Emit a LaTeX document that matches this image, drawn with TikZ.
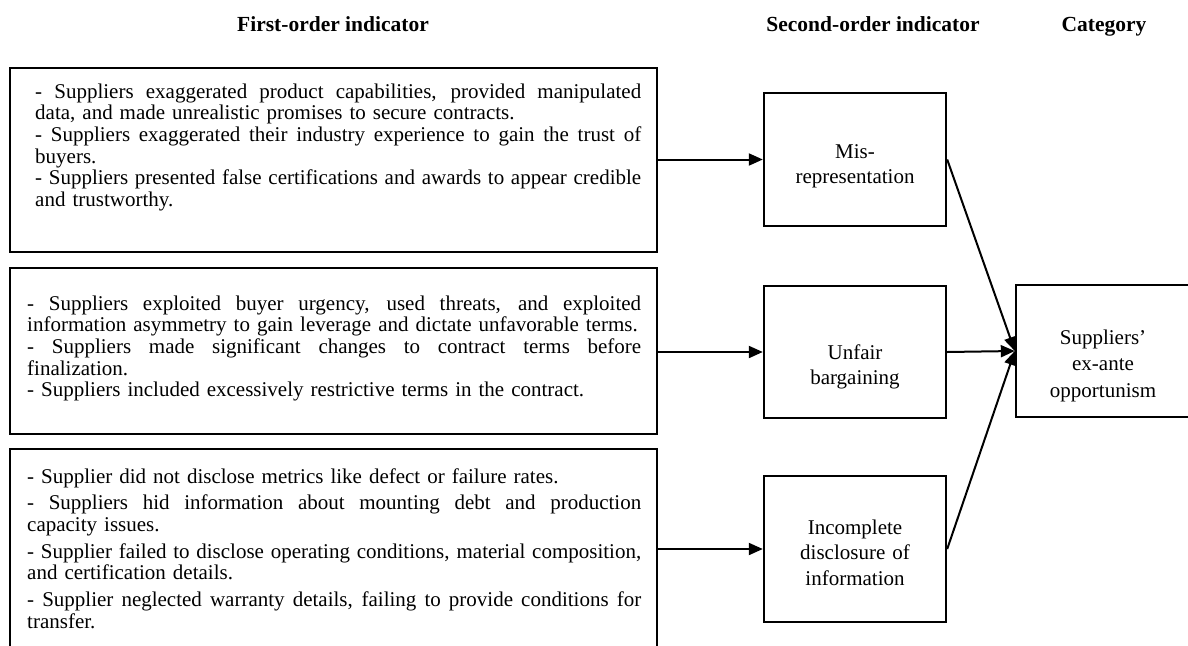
\documentclass[tikz,border=0pt]{standalone}
\usepackage{fontspec}
\setmainfont{Liberation Serif}
\usetikzlibrary{arrows.meta}

% lines stretched to the full text width (justified); the font's own
% stretchable interword glue is restored inside the box
\newcommand{\jla}[1]{\leavevmode\hbox to 606pt{\spaceskip=0pt\xspaceskip=0pt #1}}
\newcommand{\jlb}[1]{\leavevmode\hbox to 614pt{\spaceskip=0pt\xspaceskip=0pt #1}}

\begin{document}
\begin{tikzpicture}[x=1pt,y=-1pt,
  boxf/.style={draw=black, line width=2.4pt, inner sep=0pt},
  bodytxt/.style={anchor=base west, inner sep=0pt, align=left,
    font=\fontsize{21}{21.7}\selectfont},
  lbl/.style={anchor=base, inner sep=0pt, align=center, text width=178pt,
    font=\fontsize{21}{25.5}\selectfont},
  hdr/.style={anchor=base, inner sep=0pt, font=\fontsize{21.5}{25}\selectfont\bfseries},
  arr/.style={line width=2pt, -{Triangle[length=14pt,width=12pt]}}
]
\useasboundingbox (0,0) rectangle (1188,645);

% column headers
\node[hdr] (h1) at (333,31) {First-order indicator};
\node[hdr] (h2) at (873,31) {Second-order indicator};
\node[hdr] (h3) at (1104,31) {Category};

% first-order indicator boxes
\node[boxf, minimum width=647pt, minimum height=184pt] (f1) at (333.5,160) {};
\node[boxf, minimum width=647pt, minimum height=166pt] (f2) at (333.5,351) {};
\node[boxf, minimum width=647pt, minimum height=211pt] (f3) at (333.5,554.5) {};

\node[bodytxt, text width=606pt] (t1) at (35,98) {%
\jla{- Suppliers exaggerated product capabilities, provided manipulated}\\
data, and made unrealistic promises to secure contracts.\\
\jla{- Suppliers exaggerated their industry experience to gain the trust of}\\
buyers.\\
\jla{- Suppliers presented false certifications and awards to appear credible}\\
and trustworthy.};

\node[bodytxt, text width=614pt] (t2) at (27,310) {%
\jlb{- Suppliers exploited buyer urgency, used threats, and exploited}\\
information asymmetry to gain leverage and dictate unfavorable terms.\\
\jlb{- Suppliers made significant changes to contract terms before}\\
finalization.\\
- Suppliers included excessively restrictive terms in the contract.};

\node[bodytxt, text width=614pt] (t3) at (27,483) {%
- Supplier did not disclose metrics like defect or failure rates.\\[5pt]
\jlb{- Suppliers hid information about mounting debt and production}\\
capacity issues.\\[5pt]
\jlb{- Supplier failed to disclose operating conditions, material composition,}\\
and certification details.\\[5pt]
\jlb{- Supplier neglected warranty details, failing to provide conditions for}\\
transfer.};

% second-order indicator boxes
\node[boxf, minimum width=182pt, minimum height=133pt] (mis) at (855,159.5) {};
\node[boxf, minimum width=182pt, minimum height=132pt] (unf) at (855,352) {};
\node[boxf, minimum width=182pt, minimum height=146pt] (inc) at (855,549) {};
\node[lbl] (misT) at (855,158) {Mis-\\representation};
\node[lbl] (unfT) at (855,359) {Unfair\\bargaining};
\node[lbl] (incT) at (855,534) {Incomplete\\disclosure of\\information};

% category box
\node[boxf, minimum width=179pt, minimum height=132pt] (sup) at (1105.5,351) {};
\node[lbl, font=\fontsize{21}{26.5}\selectfont] (supT) at (1103,344) {Suppliers’\\ex-ante\\opportunism};

% connectors
\draw[arr] (mis.west -| f1.east) -- (mis.west);
\draw[arr] (unf.west -| f2.east) -- (unf.west);
\draw[arr] (inc.west -| f3.east) -- (inc.west);
\draw[arr] (mis.east) -- (sup.west);
\draw[arr] (unf.east) -- (sup.west);
\draw[arr] (inc.east) -- (sup.west);
\end{tikzpicture}
\end{document}
